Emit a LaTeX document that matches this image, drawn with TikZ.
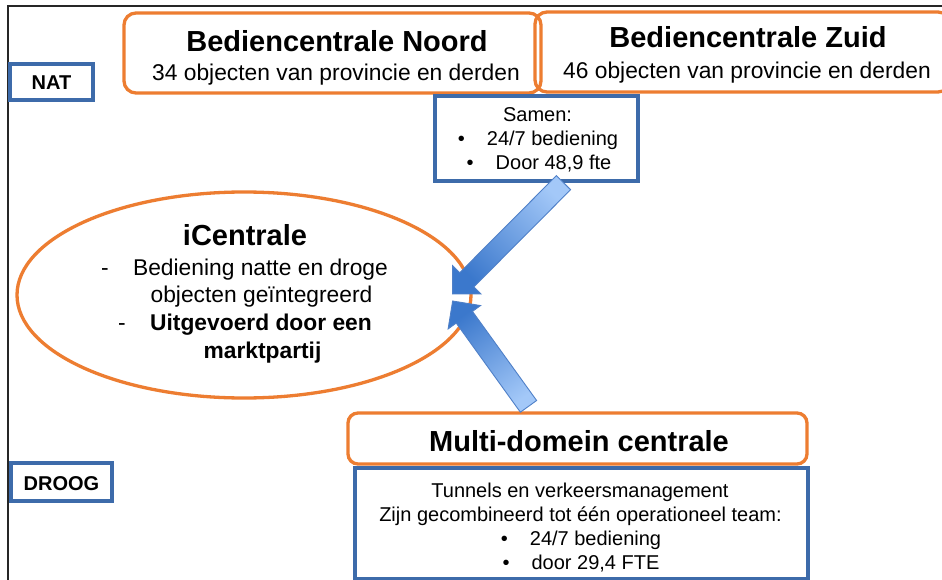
\documentclass[tikz,border=0pt]{standalone}
\usepackage{fontspec}
\setmainfont{Liberation Sans}
\usetikzlibrary{calc,shapes.geometric}
\definecolor{orng}{HTML}{ED7D31}
\definecolor{bbl}{HTML}{3D6BAA}
\definecolor{arlight}{HTML}{A3C8F8}
\definecolor{ardark}{HTML}{3B78CC}
\definecolor{aredge}{HTML}{4F80C8}
\newcommand\blkarrow[3]{%
  \coordinate (#1H) at ($(#2)!20pt!(#1)$);
  \shade[arrowfill, shading angle=#3]
    ($(#1)!10pt!90:(#2)$) -- ($(#1H)!10pt!90:(#2)$) -- ($(#1H)!20pt!90:(#2)$)
    -- (#2) -- ($(#1H)!20pt!-90:(#2)$) -- ($(#1H)!10pt!-90:(#2)$)
    -- ($(#1)!10pt!-90:(#2)$) -- cycle;
}
\begin{document}
\begin{tikzpicture}[x=1pt,y=-1pt,
  obox/.style={draw=orng, line width=3.3pt, rounded corners=12pt, inner sep=0pt},
  bbox/.style={draw=bbl, line width=3.3pt, inner sep=0pt},
  ttl/.style={font=\fontsize{29}{34}\selectfont\bfseries, anchor=base, inner sep=0pt},
  sub/.style={font=\fontsize{22.8}{27}\selectfont, anchor=base, inner sep=0pt},
  subb/.style={font=\fontsize{22.8}{27}\selectfont\bfseries, anchor=base, inner sep=0pt},
  txt/.style={font=\fontsize{20}{24}\selectfont, anchor=base, inner sep=0pt},
  lbl/.style={font=\fontsize{20}{24}\selectfont\bfseries, anchor=base, inner sep=0pt},
  arrowfill/.style={draw=aredge, line width=0.9pt, top color=arlight, bottom color=ardark, line join=miter}
]
\useasboundingbox (0,0) rectangle (942,580);
\clip (0,0) rectangle (942,580);
\fill[white] (0,0) rectangle (942,580);
% frame
\draw[line width=2pt, black!85] (945,6.5) -- (8.3,6.5) -- (8.3,585);
% boxes
\node[obox, minimum width=417pt, minimum height=80pt] (noord) at (332.5,53) {};
\node[obox, minimum width=415pt, minimum height=80pt] (zuid) at (742.5,52) {};
\node[bbox, minimum width=83pt, minimum height=36pt] (nat) at (51.5,82) {};
\node[bbox, minimum width=101pt, minimum height=38pt] (droog) at (61.5,482) {};
\node[bbox, minimum width=203pt, minimum height=85pt] (sam) at (536.5,138.5) {};
\node[obox, rounded corners=10pt, minimum width=459pt, minimum height=51pt] (multi) at (577.5,438.5) {};
\node[bbox, minimum width=453pt, minimum height=111pt] (mdt) at (581.5,523.5) {};
\node[ellipse, draw=orng, line width=3.3pt, minimum width=454pt, minimum height=206pt, inner sep=0pt] (ic) at (244,295) {};
% arrows
\coordinate (a1s) at ($(sam.south)+(27,0)$);
\coordinate (a1e) at ($(ic.east)+(-20,-1)$);
\coordinate (a2s) at ($(multi.north)+(-49,-5)$);
\coordinate (a2e) at ($(ic.east)+(-20,6)$);
\blkarrow{a1s}{a1e}{-45}
\blkarrow{a2s}{a2e}{-144}
% texts
\node[ttl] (nt) at (337,52) {Bediencentrale Noord};
\node[sub] (ns) at (336,81) {34 objecten van provincie en derden};
\node[ttl] (zt) at (748,48) {Bediencentrale Zuid};
\node[sub] (zs) at (747,79) {46 objecten van provincie en derden};
\node[lbl] (natt) at (51.5,90) {NAT};
\node[lbl] (drt) at (61.5,490) {DROOG};
\node[txt] (s1) at (537.5,122) {Samen:};
\node[txt] (s2) at (538,146) {•\hspace{22pt}24/7 bediening};
\node[txt] (s3) at (539,170) {•\hspace{22pt}Door 48,9 fte};
\node[ttl] (ict) at (245,245) {iCentrale};
\node[sub] (d1) at (105,275) {-};
\node[sub] (i1) at (260.5,275) {Bediening natte en droge};
\node[sub] (i2) at (261.5,302) {objecten geïntegreerd};
\node[sub] (d2) at (122,330) {-};
\node[subb] (i3) at (261,330) {Uitgevoerd door een};
\node[subb] (i4) at (262.5,358) {marktpartij};
\node[ttl] (mt) at (579,451) {Multi-domein centrale};
\node[txt] (b1) at (580,497) {Tunnels en verkeersmanagement};
\node[txt] (b2) at (580.5,521) {Zijn gecombineerd tot één operationeel team:};
\node[txt] (b3) at (581,545) {•\hspace{22pt}24/7 bediening};
\node[txt] (b4) at (581,569) {•\hspace{22pt}door 29,4 FTE};
\end{tikzpicture}
\end{document}
